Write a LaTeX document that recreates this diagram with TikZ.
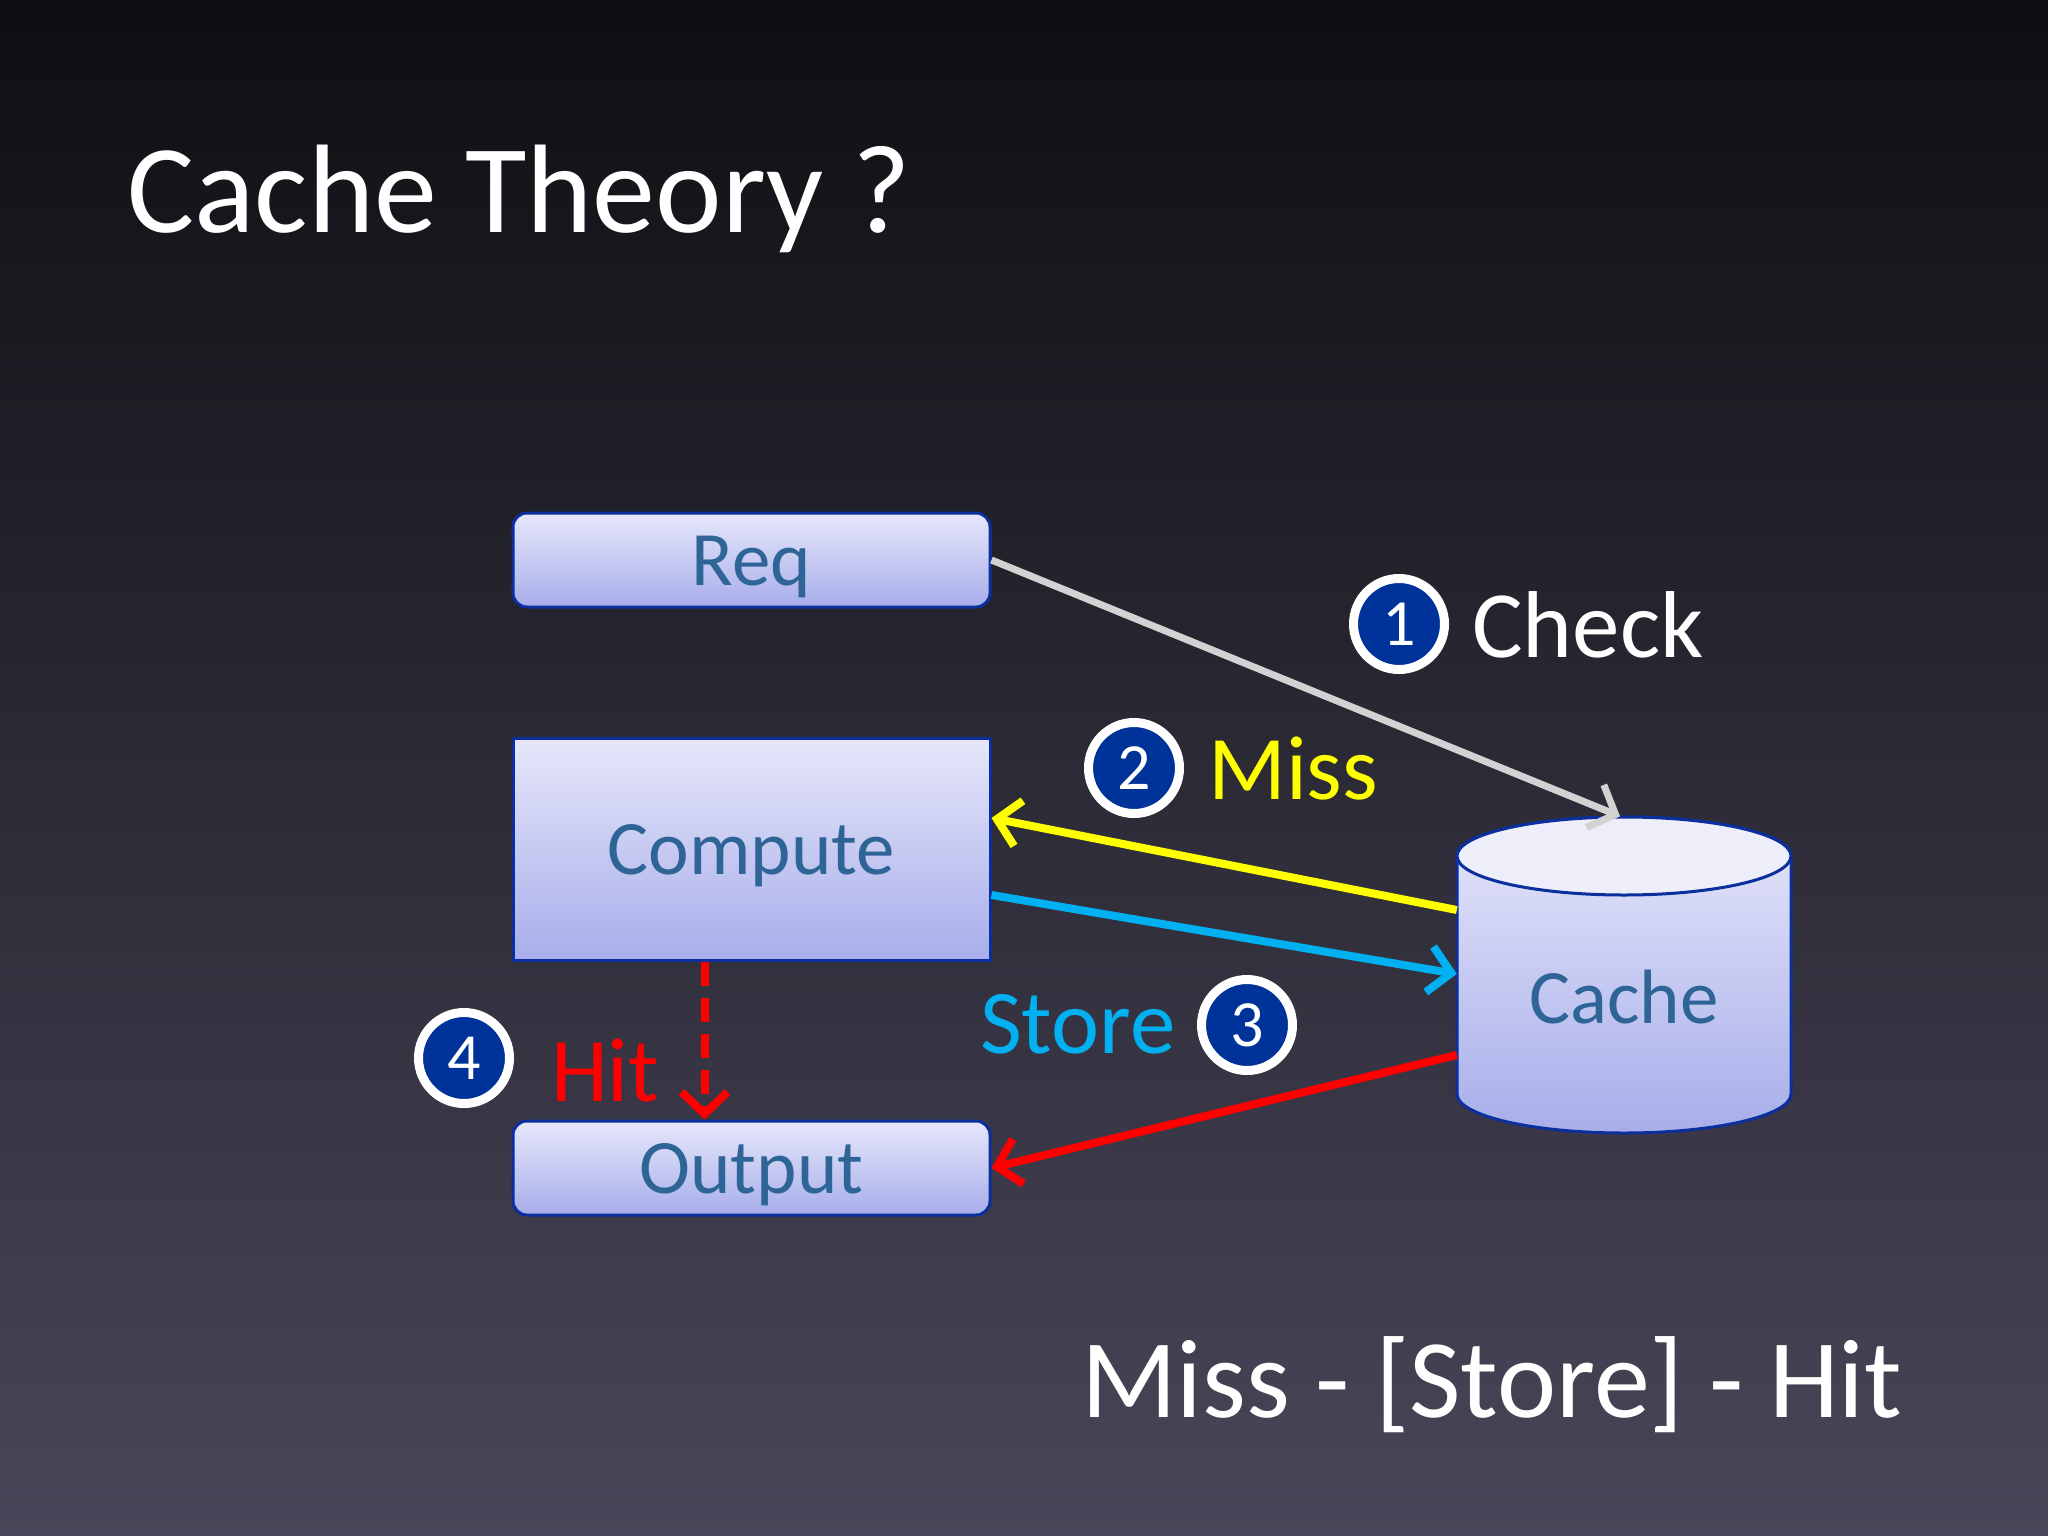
\documentclass[tikz,border=0pt]{standalone}
\usepackage{fontspec}
\setmainfont{Carlito}
\usetikzlibrary{arrows.meta,calc}
\definecolor{bgtop}{HTML}{0E0E12}
\definecolor{bgmid}{HTML}{2B2A35}
\definecolor{bgbot}{HTML}{4A4659}
\definecolor{boxtop}{HTML}{E6E7FA}
\definecolor{boxbot}{HTML}{A7AEEA}
\definecolor{cyltop}{HTML}{EEEEFA}
\definecolor{boxline}{HTML}{0B2F9C}
\definecolor{boxtext}{HTML}{2F6496}
\definecolor{badge}{HTML}{003399}
\definecolor{checkgray}{HTML}{D2D2D2}
\definecolor{missyellow}{HTML}{FFFF00}
\definecolor{storecyan}{HTML}{00B0F0}
\definecolor{hitred}{HTML}{FF0000}
\begin{document}
\begin{tikzpicture}[x=1pt,y=1pt,
  procbox/.style={draw=boxline, line width=3pt, top color=boxtop, bottom color=boxbot,
    text=boxtext, font=\fontsize{77}{80}\selectfont, minimum width=477pt,
    text height=50pt, text depth=0pt, inner sep=0pt},
  badgenode/.style={circle, fill=badge, draw=white, line width=9pt, minimum size=91pt,
    inner sep=0pt, text=white, font=\fontsize{66}{66}\selectfont},
  lbl/.style={anchor=base west, inner sep=0pt, font=\fontsize{91}{95}\selectfont},
  conn/.style={line width=8pt, -{Straight Barb[length=22pt,width=46pt]}}
]
% background
\fill[top color=bgtop, bottom color=bgbot, middle color=bgmid] (0,0) rectangle (2048,-1536);
\useasboundingbox (0,0) rectangle (2048,-1536);

% title and summary
\node[anchor=base west, inner sep=0pt, text=white, font=\fontsize{126}{130}\selectfont] (title) at (127,-232) {Cache Theory ?};
\node[anchor=base west, inner sep=0pt, text=white, font=\fontsize{112}{115}\selectfont] (summary) at (1081,-1417) {Miss - [Store] - Hit};

% boxes
\node[procbox, rounded corners=14pt, minimum height=94pt] (req) at (751.5,-560) {Req};
\node[procbox, minimum height=222pt] (compute) at (751.5,-849) {Compute};
\node[procbox, rounded corners=14pt, minimum height=94pt] (output) at (751.5,-1168) {Output};

% cylinder
\draw[boxline, line width=3pt, top color=boxtop, bottom color=boxbot]
  (1457,-856) -- (1457,-1094) arc[start angle=180, end angle=360, x radius=167, y radius=39]
  -- (1791,-856) arc[start angle=0, end angle=180, x radius=167, y radius=39] -- cycle;
\draw[boxline, line width=3pt, fill=cyltop] (1624,-856) ellipse[x radius=167, y radius=39];
\node[minimum width=334pt, minimum height=317pt, inner sep=0pt] (cache) at (1624,-975) {};
\node[anchor=base, inner sep=0pt, text=boxtext, font=\fontsize{77}{80}\selectfont] (cachetext) at (1624,-1023) {Cache};

% connectors
\draw[conn, checkgray, line width=7pt] (req.east) -- ([xshift=-4pt]cache.north);
\draw[conn, missyellow] ([yshift=65pt]cache.west) -- ([yshift=31pt]compute.east);
\draw[conn, storecyan] ([yshift=-46pt]compute.east) -- ([yshift=1pt]cache.west);
\draw[conn, hitred] ([yshift=-80pt]cache.west) -- (output.east);
\draw[conn, hitred, dash pattern=on 24pt off 12pt] ([xshift=-47pt]compute.south) -- ([xshift=-47pt]output.north);

% badges
\node[badgenode] (b1) at (1399,-624) {1};
\node[badgenode] (b2) at (1134,-768) {2};
\node[badgenode] (b3) at (1247,-1025) {3};
\node[badgenode] (b4) at (464,-1058) {4};

% labels
\node[lbl, text=white, font=\fontsize{95}{95}\selectfont] (check) at (1472,-657) {Check};
\node[lbl, text=missyellow] (miss) at (1208,-799) {Miss};
\node[lbl, text=storecyan] (store) at (980,-1053) {Store};
\node[lbl, text=hitred] (hit) at (551,-1101) {Hit};
\end{tikzpicture}
\end{document}
